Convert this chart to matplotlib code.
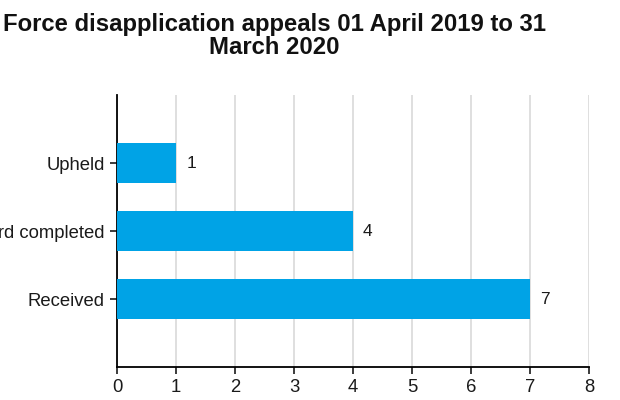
from matplotlib import pyplot as plt

# data
categories = ["Received", "Heard completed", "Upheld"]
counts = [7, 4, 1]
x_ticks = [0, 1, 2, 3, 4, 5, 6, 7, 8]
title = "Force disapplication appeals 01 April 2019 to 31\nMarch 2020"

plt.rcParams['font.family'] = ['Liberation Sans', 'DejaVu Sans']

fig = plt.figure(figsize=(6.2, 4.0), dpi=100)
ax = fig.add_axes([0.189, 0.0825, 0.761, 0.68])

ypos = list(range(len(categories)))
bars = ax.barh(ypos, counts, height=0.58, color='#00a3e6', zorder=3)

# value labels to the right of each bar
for y, v in zip(ypos, counts):
    ax.text(v + 0.17, y, str(v), va='center', ha='left', fontsize=12.5, color='#1a1a1a')

ax.set_xlim(0, 8)
ax.set_ylim(-1, 3)
ax.set_xticks(x_ticks)
ax.set_yticks(ypos)
ax.set_yticklabels(categories)
ax.tick_params(axis='both', labelsize=13.3, colors='#1a1a1a', length=5, width=1.2, direction='out')
ax.tick_params(axis='x', pad=4)
ax.tick_params(axis='y', pad=4)

ax.xaxis.grid(True, color='#d9d9d9', linewidth=1.2, zorder=0)
ax.set_axisbelow(True)
for side in ('top', 'right'):
    ax.spines[side].set_visible(False)
for side in ('left', 'bottom'):
    ax.spines[side].set_linewidth(1.3)
    ax.spines[side].set_color('black')

fig.text(0.442, 0.968, title, ha='center', va='top', fontsize=17.2, fontweight='bold', color='#111111', linespacing=1.02)

fig.savefig("out.png", dpi=100)
